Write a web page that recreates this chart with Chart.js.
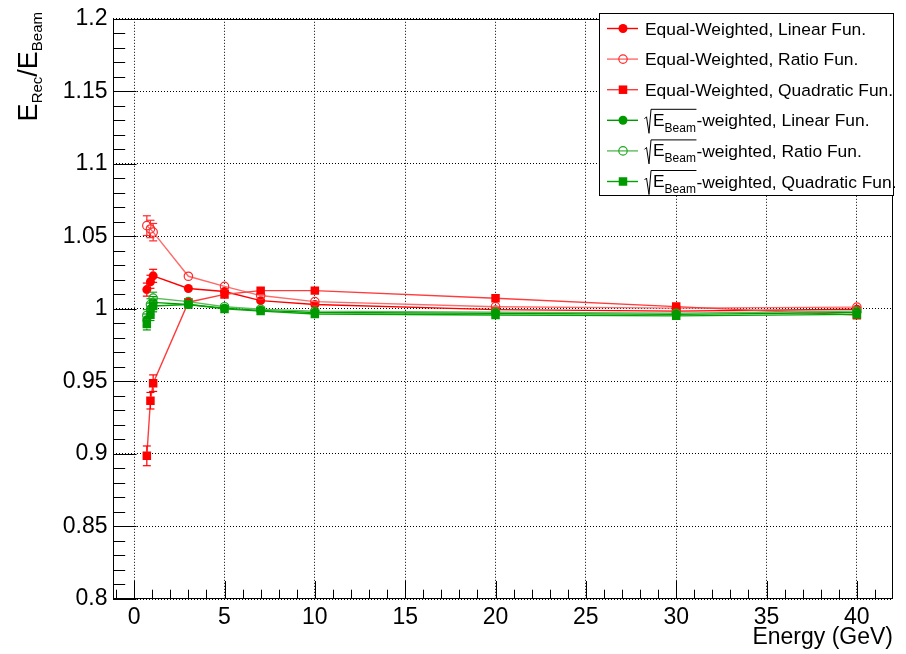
<!DOCTYPE html>
<html>
<head>
<meta charset="utf-8">
<script src="https://cdn.jsdelivr.net/npm/chart.js@4.4.1/dist/chart.umd.min.js"></script>
<style>
  html, body { margin: 0; padding: 0; background: #fff; }
  #wrap { width: 906px; height: 654px; }
</style>
</head>
<body>
<div id="wrap"><canvas id="c" width="906" height="654"></canvas></div>
<script>
// Beam energies (GeV)
const energies = [0.7, 0.9, 1.05, 3, 5, 7, 10, 20, 30, 40];

// Equal-weighted calibration
const ewLinear     = [1.0133, 1.0187, 1.0228, 1.0141, 1.0120, 1.0057, 1.0030, 0.9995, 0.9985, 0.9998];
const ewLinearErr  = [0.0045, 0.0045, 0.0045, 0.0025, 0.0020, 0.0020, 0.0015, 0.0015, 0.0015, 0.0015];
const ewRatio      = [1.0574, 1.0551, 1.0529, 1.0225, 1.0155, 1.0092, 1.0050, 1.0015, 1.0005, 1.0012];
const ewRatioErr   = [0.0068, 0.0060, 0.0060, 0.0025, 0.0020, 0.0020, 0.0015, 0.0015, 0.0015, 0.0015];
const ewQuad       = [0.8987, 0.9367, 0.9488, 1.0046, 1.0100, 1.0126, 1.0126, 1.0073, 1.0016, 0.9957];
const ewQuadErr    = [0.0068, 0.0057, 0.0057, 0.0025, 0.0020, 0.0020, 0.0015, 0.0015, 0.0015, 0.0015];

// sqrt(E_Beam)-weighted calibration
const swLinear     = [0.9925, 1.0000, 1.0045, 1.0030, 1.0005, 0.9990, 0.9975, 0.9970, 0.9962, 0.9975];
const swLinearErr  = [0.0040, 0.0040, 0.0040, 0.0020, 0.0018, 0.0015, 0.0015, 0.0015, 0.0015, 0.0015];
const swRatio      = [0.9955, 1.0030, 1.0075, 1.0050, 1.0015, 0.9998, 0.9985, 0.9978, 0.9970, 0.9985];
const swRatioErr   = [0.0040, 0.0040, 0.0040, 0.0020, 0.0018, 0.0015, 0.0015, 0.0015, 0.0015, 0.0015];
const swQuad       = [0.9895, 0.9960, 1.0020, 1.0030, 1.0000, 0.9985, 0.9965, 0.9958, 0.9952, 0.9962];
const swQuadErr    = [0.0040, 0.0040, 0.0040, 0.0020, 0.0018, 0.0015, 0.0015, 0.0015, 0.0015, 0.0015];

// Axis ticks
const xTickValues = [0, 5, 10, 15, 20, 25, 30, 35, 40];
const xTickLabels = ['0', '5', '10', '15', '20', '25', '30', '35', '40'];
const yTickValues = [0.8, 0.85, 0.9, 0.95, 1.0, 1.05, 1.1, 1.15, 1.2];
const yTickLabels = ['0.8', '0.85', '0.9', '0.95', '1', '1.05', '1.1', '1.15', '1.2'];

const FONT = '"Liberation Sans", Arial, Helvetica, sans-serif';
const RED = '#ff0000';
const GREEN = '#009a00';

const series = [
  { values: ewLinear, errors: ewLinearErr, marker: 'circle',     markerColor: RED,   lineColor: '#ff0000',
    legend: { text: 'Equal-Weighted, Linear Fun.' } },
  { values: ewRatio,  errors: ewRatioErr,  marker: 'circleOpen', markerColor: '#ff2a2a', lineColor: '#ff6a6a',
    legend: { text: 'Equal-Weighted, Ratio Fun.' } },
  { values: ewQuad,   errors: ewQuadErr,   marker: 'rect',       markerColor: RED,   lineColor: '#ff3c3c',
    legend: { text: 'Equal-Weighted, Quadratic Fun.' } },
  { values: swLinear, errors: swLinearErr, marker: 'circle',     markerColor: GREEN, lineColor: '#009a00',
    legend: { radicand: 'E', sub: 'Beam', text: '-weighted, Linear Fun.' } },
  { values: swRatio,  errors: swRatioErr,  marker: 'circleOpen', markerColor: '#1fa81f', lineColor: '#5cbc5c',
    legend: { radicand: 'E', sub: 'Beam', text: '-weighted, Ratio Fun.' } },
  { values: swQuad,   errors: swQuadErr,   marker: 'rect',       markerColor: GREEN, lineColor: '#00a400',
    legend: { radicand: 'E', sub: 'Beam', text: '-weighted, Quadratic Fun.' } }
];

function markerHalf(style) { return style === 'rect' ? 4.25 : 4.5; }

const datasets = series.map((s, i) => ({
  data: energies.map((e, k) => ({ x: e, y: s.values[k] })),
  showLine: true,
  borderColor: s.lineColor,
  borderWidth: 1.4,
  pointStyle: s.marker === 'rect' ? 'rect' : 'circle',
  pointRadius: s.marker === 'rect' ? 6 : (s.marker === 'circleOpen' ? 4.2 : 4.5),
  pointBackgroundColor: s.marker === 'circleOpen' ? 'rgba(0,0,0,0)' : s.markerColor,
  pointBorderColor: s.markerColor,
  pointBorderWidth: s.marker === 'circleOpen' ? 1.2 : 0,
  pointHoverRadius: 0,
  order: series.length - i,
  errors: s.errors
}));

function drawMarker(ctx, style, x, y, color) {
  ctx.save();
  if (style === 'circle') {
    ctx.fillStyle = color;
    ctx.beginPath(); ctx.arc(x, y, 4.5, 0, Math.PI * 2); ctx.fill();
  } else if (style === 'circleOpen') {
    ctx.strokeStyle = color; ctx.lineWidth = 1.2;
    ctx.beginPath(); ctx.arc(x, y, 4.2, 0, Math.PI * 2); ctx.stroke();
  } else {
    ctx.fillStyle = color;
    ctx.fillRect(x - 4.25, y - 4.25, 8.5, 8.5);
  }
  ctx.restore();
}

function line(ctx, x1, y1, x2, y2) {
  ctx.beginPath(); ctx.moveTo(x1, y1); ctx.lineTo(x2, y2); ctx.stroke();
}

function drawFrameAndTicks(chart) {
  const ctx = chart.ctx, a = chart.chartArea;
  const xs = chart.scales.x, ys = chart.scales.y;
  ctx.save();
  ctx.strokeStyle = '#000';
  ctx.lineWidth = 1;
  const L = Math.round(a.left) + 0.5, R = Math.round(a.right) - 0.5;
  const T = Math.round(a.top) + 0.5, B = Math.round(a.bottom) - 0.5;
  // x ticks: major every 5, minor every 1
  for (let v = -1; v <= 41; v++) {
    const px = Math.round(xs.getPixelForValue(v)) + 0.5;
    const len = (v % 5 === 0) ? 17.5 : 8.8;
    line(ctx, px, B, px, B - len);
  }
  // y ticks: major every 0.05, minor every 0.01
  for (let k = 0; k <= 40; k++) {
    const v = 0.8 + k * 0.01;
    const py = Math.round(ys.getPixelForValue(v)) + 0.5;
    const len = (k % 5 === 0) ? 23 : 11.7;
    line(ctx, L, py, L + len, py);
  }
  ctx.strokeRect(L, T, R - L, B - T);
  ctx.restore();
}

function drawYTitle(ctx) {
  const F = 27, f = 15;
  const parts = [
    { t: 'E', font: `${F}px ${FONT}`, dy: 0 },
    { t: 'Rec', font: `${f}px ${FONT}`, dy: 5 },
    { t: '/', font: `${F}px ${FONT}`, dy: 0 },
    { t: 'E', font: `${F}px ${FONT}`, dy: 0 },
    { t: 'Beam', font: `${f}px ${FONT}`, dy: 5 }
  ];
  ctx.save();
  let total = 0;
  parts.forEach(p => { ctx.font = p.font; p.w = ctx.measureText(p.t).width; total += p.w; });
  ctx.translate(37, 12 + total);
  ctx.rotate(-Math.PI / 2);
  ctx.fillStyle = '#000';
  ctx.textBaseline = 'alphabetic';
  let x = 0;
  parts.forEach(p => { ctx.font = p.font; ctx.fillText(p.t, x, p.dy); x += p.w; });
  ctx.restore();
}

function drawLegend(ctx) {
  const bx = 599.5, by = 13.5, bw = 294, bh = 182;
  ctx.save();
  ctx.fillStyle = '#fff';
  ctx.fillRect(bx, by, bw, bh);
  ctx.strokeStyle = '#000'; ctx.lineWidth = 1;
  ctx.strokeRect(bx, by, bw, bh);
  const mainFont = `17.4px ${FONT}`, subFont = `12px ${FONT}`;
  series.forEach((s, i) => {
    const cy = 28.5 + i * 30.6;
    ctx.strokeStyle = s.lineColor; ctx.lineWidth = 1.4;
    line(ctx, 607, cy, 638, cy);
    drawMarker(ctx, s.marker, 623, cy, s.markerColor);
    ctx.fillStyle = '#000';
    ctx.textBaseline = 'alphabetic';
    let x = 645;
    const lg = s.legend;
    if (lg.radicand) {
      ctx.font = mainFont;
      const wE = ctx.measureText(lg.radicand).width;
      ctx.font = subFont;
      const wS = ctx.measureText(lg.sub).width;
      const x0 = 653, xEnd = x0 + wE + wS + 0.5;
      ctx.strokeStyle = '#000'; ctx.lineWidth = 1;
      ctx.beginPath();
      ctx.moveTo(644.5, cy - 1.5);
      ctx.lineTo(646.5, cy - 3.5);
      ctx.lineTo(649, cy + 13);
      ctx.lineTo(651, cy - 11);
      ctx.lineTo(xEnd, cy - 11);
      ctx.stroke();
      ctx.font = mainFont;
      ctx.fillText(lg.radicand, x0, cy + 5.5);
      ctx.font = subFont;
      ctx.fillText(lg.sub, x0 + wE, cy + 11.5);
      x = xEnd;
    }
    ctx.font = mainFont;
    ctx.fillText(lg.text, x, cy + 6);
  });
  ctx.restore();
}

const rootStyle = {
  id: 'rootStyle',
  afterDatasetDraw(chart, args) {
    const ds = chart.data.datasets[args.index];
    const s = series[args.index];
    const ctx = chart.ctx, ys = chart.scales.y;
    const r = markerHalf(s.marker);
    ctx.save();
    ctx.strokeStyle = s.markerColor;
    ctx.lineWidth = 1.2;
    args.meta.data.forEach((pt, k) => {
      const v = s.values[k], e = ds.errors[k];
      const top = ys.getPixelForValue(v + e), bot = ys.getPixelForValue(v - e);
      if (pt.y - top > r + 0.5) {
        line(ctx, pt.x, pt.y - r, pt.x, top);
        line(ctx, pt.x - 4, top, pt.x + 4, top);
      }
      if (bot - pt.y > r + 0.5) {
        line(ctx, pt.x, pt.y + r, pt.x, bot);
        line(ctx, pt.x - 4, bot, pt.x + 4, bot);
      }
    });
    ctx.restore();
  },
  afterDraw(chart) {
    drawFrameAndTicks(chart);
    drawYTitle(chart.ctx);
    drawLegend(chart.ctx);
  }
};

new Chart(document.getElementById('c').getContext('2d'), {
  type: 'scatter',
  data: { datasets },
  options: {
    responsive: false,
    animation: false,
    devicePixelRatio: 1,
    layout: { padding: { top: 14, right: 13, left: 0, bottom: 0 } },
    plugins: { legend: { display: false }, tooltip: { enabled: false } },
    scales: {
      x: {
        type: 'linear', position: 'bottom', min: -1.2, max: 42,
        afterBuildTicks: s => { s.ticks = xTickValues.map(v => ({ value: v })); },
        afterFit: s => { s.height = 55; },
        ticks: {
          callback: (v, i) => xTickLabels[i],
          font: { family: FONT, size: 23 }, color: '#000',
          padding: 5, maxRotation: 0, autoSkip: false
        },
        grid: { color: '#000', lineWidth: 1, drawTicks: false },
        border: { display: false, dash: [1, 2] },
        title: {
          display: true, text: 'Energy (GeV)', align: 'end', color: '#000',
          font: { family: FONT, size: 23, lineHeight: 1 }, padding: { top: 0, bottom: 5 }
        }
      },
      y: {
        type: 'linear', position: 'left', min: 0.8, max: 1.2,
        afterBuildTicks: s => { s.ticks = yTickValues.map(v => ({ value: v })); },
        afterFit: s => { s.width = 112.5; },
        ticks: {
          callback: (v, i) => yTickLabels[i],
          font: { family: FONT, size: 23 }, color: '#000',
          padding: 5, autoSkip: false
        },
        grid: { color: '#000', lineWidth: 1, drawTicks: false },
        border: { display: false, dash: [1, 2] }
      }
    }
  },
  plugins: [rootStyle]
});
</script>
</body>
</html>
